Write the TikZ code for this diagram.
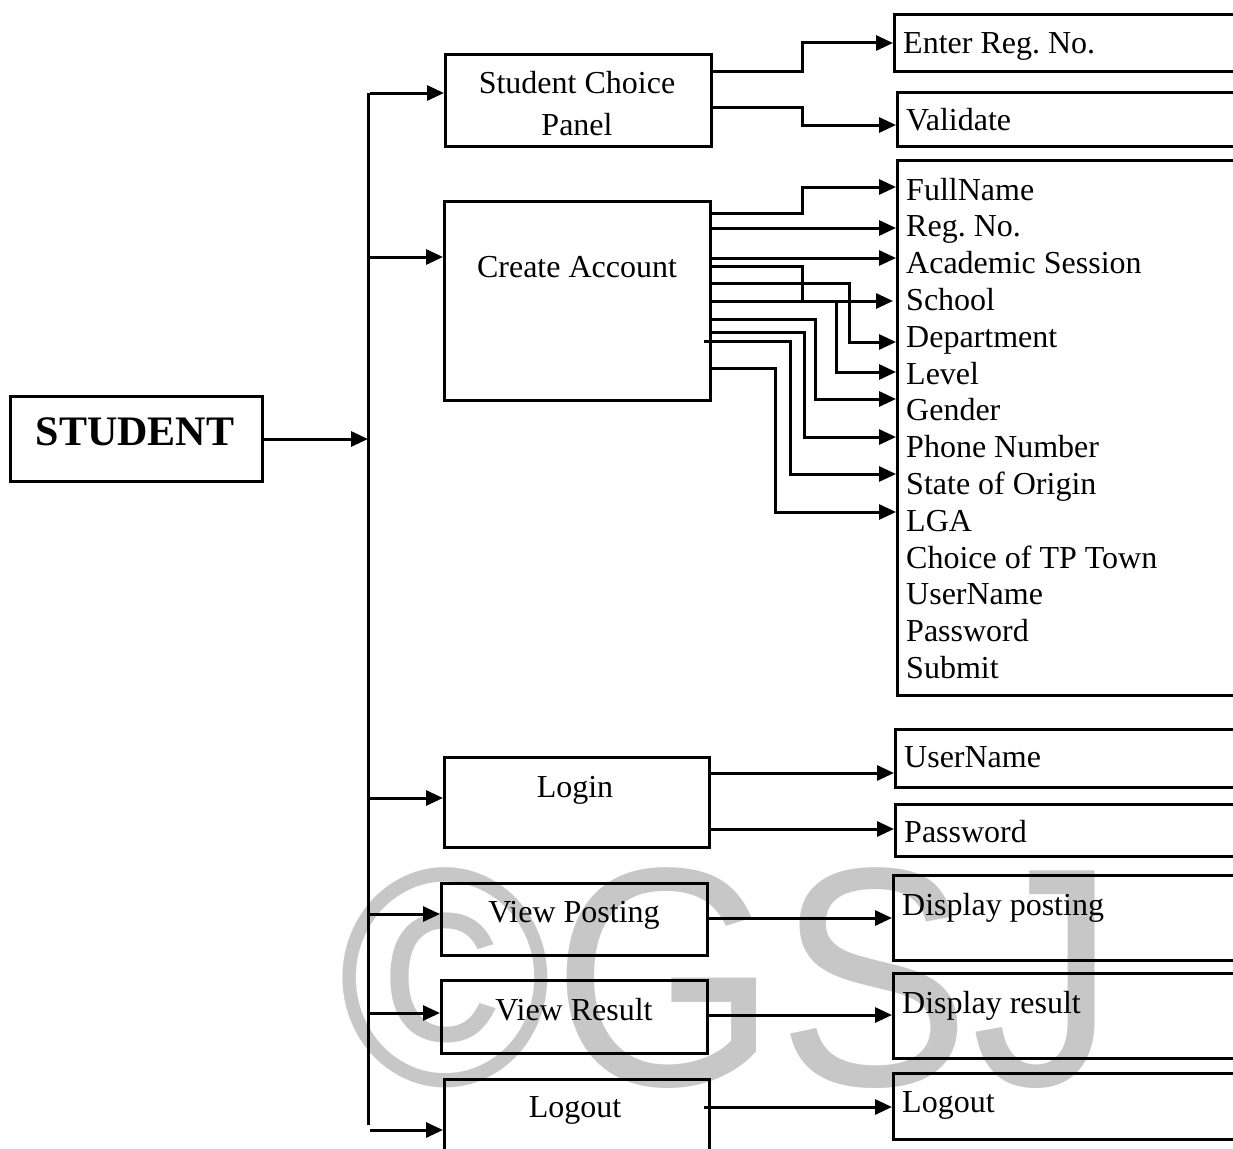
\documentclass[tikz,border=0pt]{standalone}
\usepackage{fontspec}
\setmainfont{Liberation Serif}
\newfontfamily\markfont{Liberation Sans}
\usetikzlibrary{arrows.meta}
\frenchspacing
\begin{document}
\begin{tikzpicture}[x=1pt,y=-1pt,
  box/.style={draw, line width=2.8pt, inner sep=0pt, anchor=north west},
  lbl/.style={anchor=base, font=\fontsize{32}{36}\selectfont, inner sep=0pt},
  item/.style={anchor=base west, font=\fontsize{32}{36}\selectfont, inner sep=0pt},
  arr/.style={-{Triangle[length=17pt,width=15pt]}, line width=3pt},
  wire/.style={line width=3pt}]
\useasboundingbox (0,0) rectangle (1233,1148);
\clip (0,0) rectangle (1233,1148);

% watermark
\node[anchor=base west, inner sep=0pt, text=black!22, xscale=0.93,
      font=\markfont\fontsize{312}{312}\selectfont] (wm) at (338,1085) {©GSJ};

% main actor
\node[box, minimum width=252pt, minimum height=85pt] (student) at (9,395) {};
\node[anchor=base, inner sep=0pt, font=\fontsize{42}{46}\selectfont\bfseries] (student-t) at (135,445) {STUDENT};

% left column of functions
\node[box, minimum width=266pt, minimum height=92pt]  (scp)    at (444,53) {};
\node[box, minimum width=266pt, minimum height=199pt] (ca)     at (443,200) {};
\node[box, minimum width=265pt, minimum height=90pt]  (login)  at (443,756) {};
\node[box, minimum width=266pt, minimum height=72pt]  (vp)     at (440,882) {};
\node[box, minimum width=266pt, minimum height=73pt]  (vr)     at (440,979) {};
\node[box, minimum width=265pt, minimum height=100pt] (logout) at (443,1078) {};

\node[lbl] (scp-t1) at (577,93) {Student Choice};
\node[lbl] (scp-t2) at (577,135) {Panel};
\node[lbl] (ca-t) at (577,277) {Create Account};
\node[lbl] (login-t) at (575,797) {Login};
\node[lbl] (vp-t) at (574,922) {View Posting};
\node[lbl] (vr-t) at (574,1020) {View Result};
\node[lbl] (logout-t) at (575,1117) {Logout};

% right column of outputs
\node[box, minimum width=367pt, minimum height=57pt]  (erg)  at (893,13) {};
\node[box, minimum width=364pt, minimum height=54pt]  (val)  at (896,91) {};
\node[box, minimum width=364pt, minimum height=535pt] (list) at (896,159) {};
\node[box, minimum width=366pt, minimum height=58pt]  (un)   at (894,728) {};
\node[box, minimum width=366pt, minimum height=52pt]  (pw)   at (894,803) {};
\node[box, minimum width=368pt, minimum height=85pt]  (dp)   at (892,874) {};
\node[box, minimum width=368pt, minimum height=85pt]  (dr)   at (892,972) {};
\node[box, minimum width=368pt, minimum height=66pt]  (lo2)  at (892,1072) {};

\node[item] (erg-t) at (903,53) {Enter Reg. No.};
\node[item] (val-t) at (906,130) {Validate};
\foreach \n/\t [count=\i from 0] in {fn/FullName, rn/Reg. No., as/Academic Session,
    sch/School, dep/Department, lev/Level, gen/Gender, ph/Phone Number,
    st/State of Origin, lga/LGA, tp/Choice of TP Town, usr/UserName,
    pwd/Password, sub/Submit}
  \node[item] (\n) at (906,200+36.8*\i) {\t};
\node[item] (un-t) at (904,767) {UserName};
\node[item] (pw-t) at (904,842) {Password};
\node[item] (dp-t) at (902,915) {Display posting};
\node[item] (dr-t) at (902,1013) {Display result};
\node[item] (lo2-t) at (902,1112) {Logout};

% trunk
\coordinate (ttop) at (368,93);
\coordinate (tbot) at (368,1125);
\coordinate (trunk) at (370,0);
\draw[wire] (ttop) -- (tbot);
\draw[arr] (student.east |- 0,439) -- (ttop |- 0,439);
\foreach \b/\y in {scp/93, ca/257, login/798, vp/914, vr/1013, logout/1130}
  \draw[arr] (trunk |- 0,\y) -- (\b.west |- 0,\y);

% student choice panel
\draw[arr] (scp.east |- 0,71) -| (802,43) -- (erg.west |- 0,43);
\draw[arr] (scp.east |- 0,107) -| (802,125) -- (val.west |- 0,125);

% create account fields
\draw[arr] (ca.east |- 0,213) -| (802,187) -- (list.west |- 0,187);
\draw[arr] (ca.east |- 0,228) -- (list.west |- 0,228);
\draw[arr] (712,258) -- (list.west |- 0,258);
\draw[wire] (712,266) -| (802,301);
\draw[arr] (712,283) -| (849,342) -- (list.west |- 0,342);
\draw[arr] (712,301) -- ([xshift=-3pt]list.west |- 0,301);
\draw[arr] (836,301) |- (list.west |- 0,372);
\draw[arr] (712,319) -| (815,399) -- (list.west |- 0,399);
\draw[arr] (712,332) -| (804,437) -- (list.west |- 0,437);
\draw[arr] (704,341) -| (790,474) -- (list.west |- 0,474);
\draw[arr] (ca.east |- 0,368) -| (775,512) -- (list.west |- 0,512);

% login, view and logout outputs
\draw[arr] (login.east |- 0,773) -- (un.west |- 0,773);
\draw[arr] (login.east |- 0,829) -- (pw.west |- 0,829);
\draw[arr] (vp.east |- 0,918) -- (dp.west |- 0,918);
\draw[arr] (vr.east |- 0,1015) -- (dr.west |- 0,1015);
\draw[arr] (704,1107) -- (lo2.west |- 0,1107);
\end{tikzpicture}
\end{document}
